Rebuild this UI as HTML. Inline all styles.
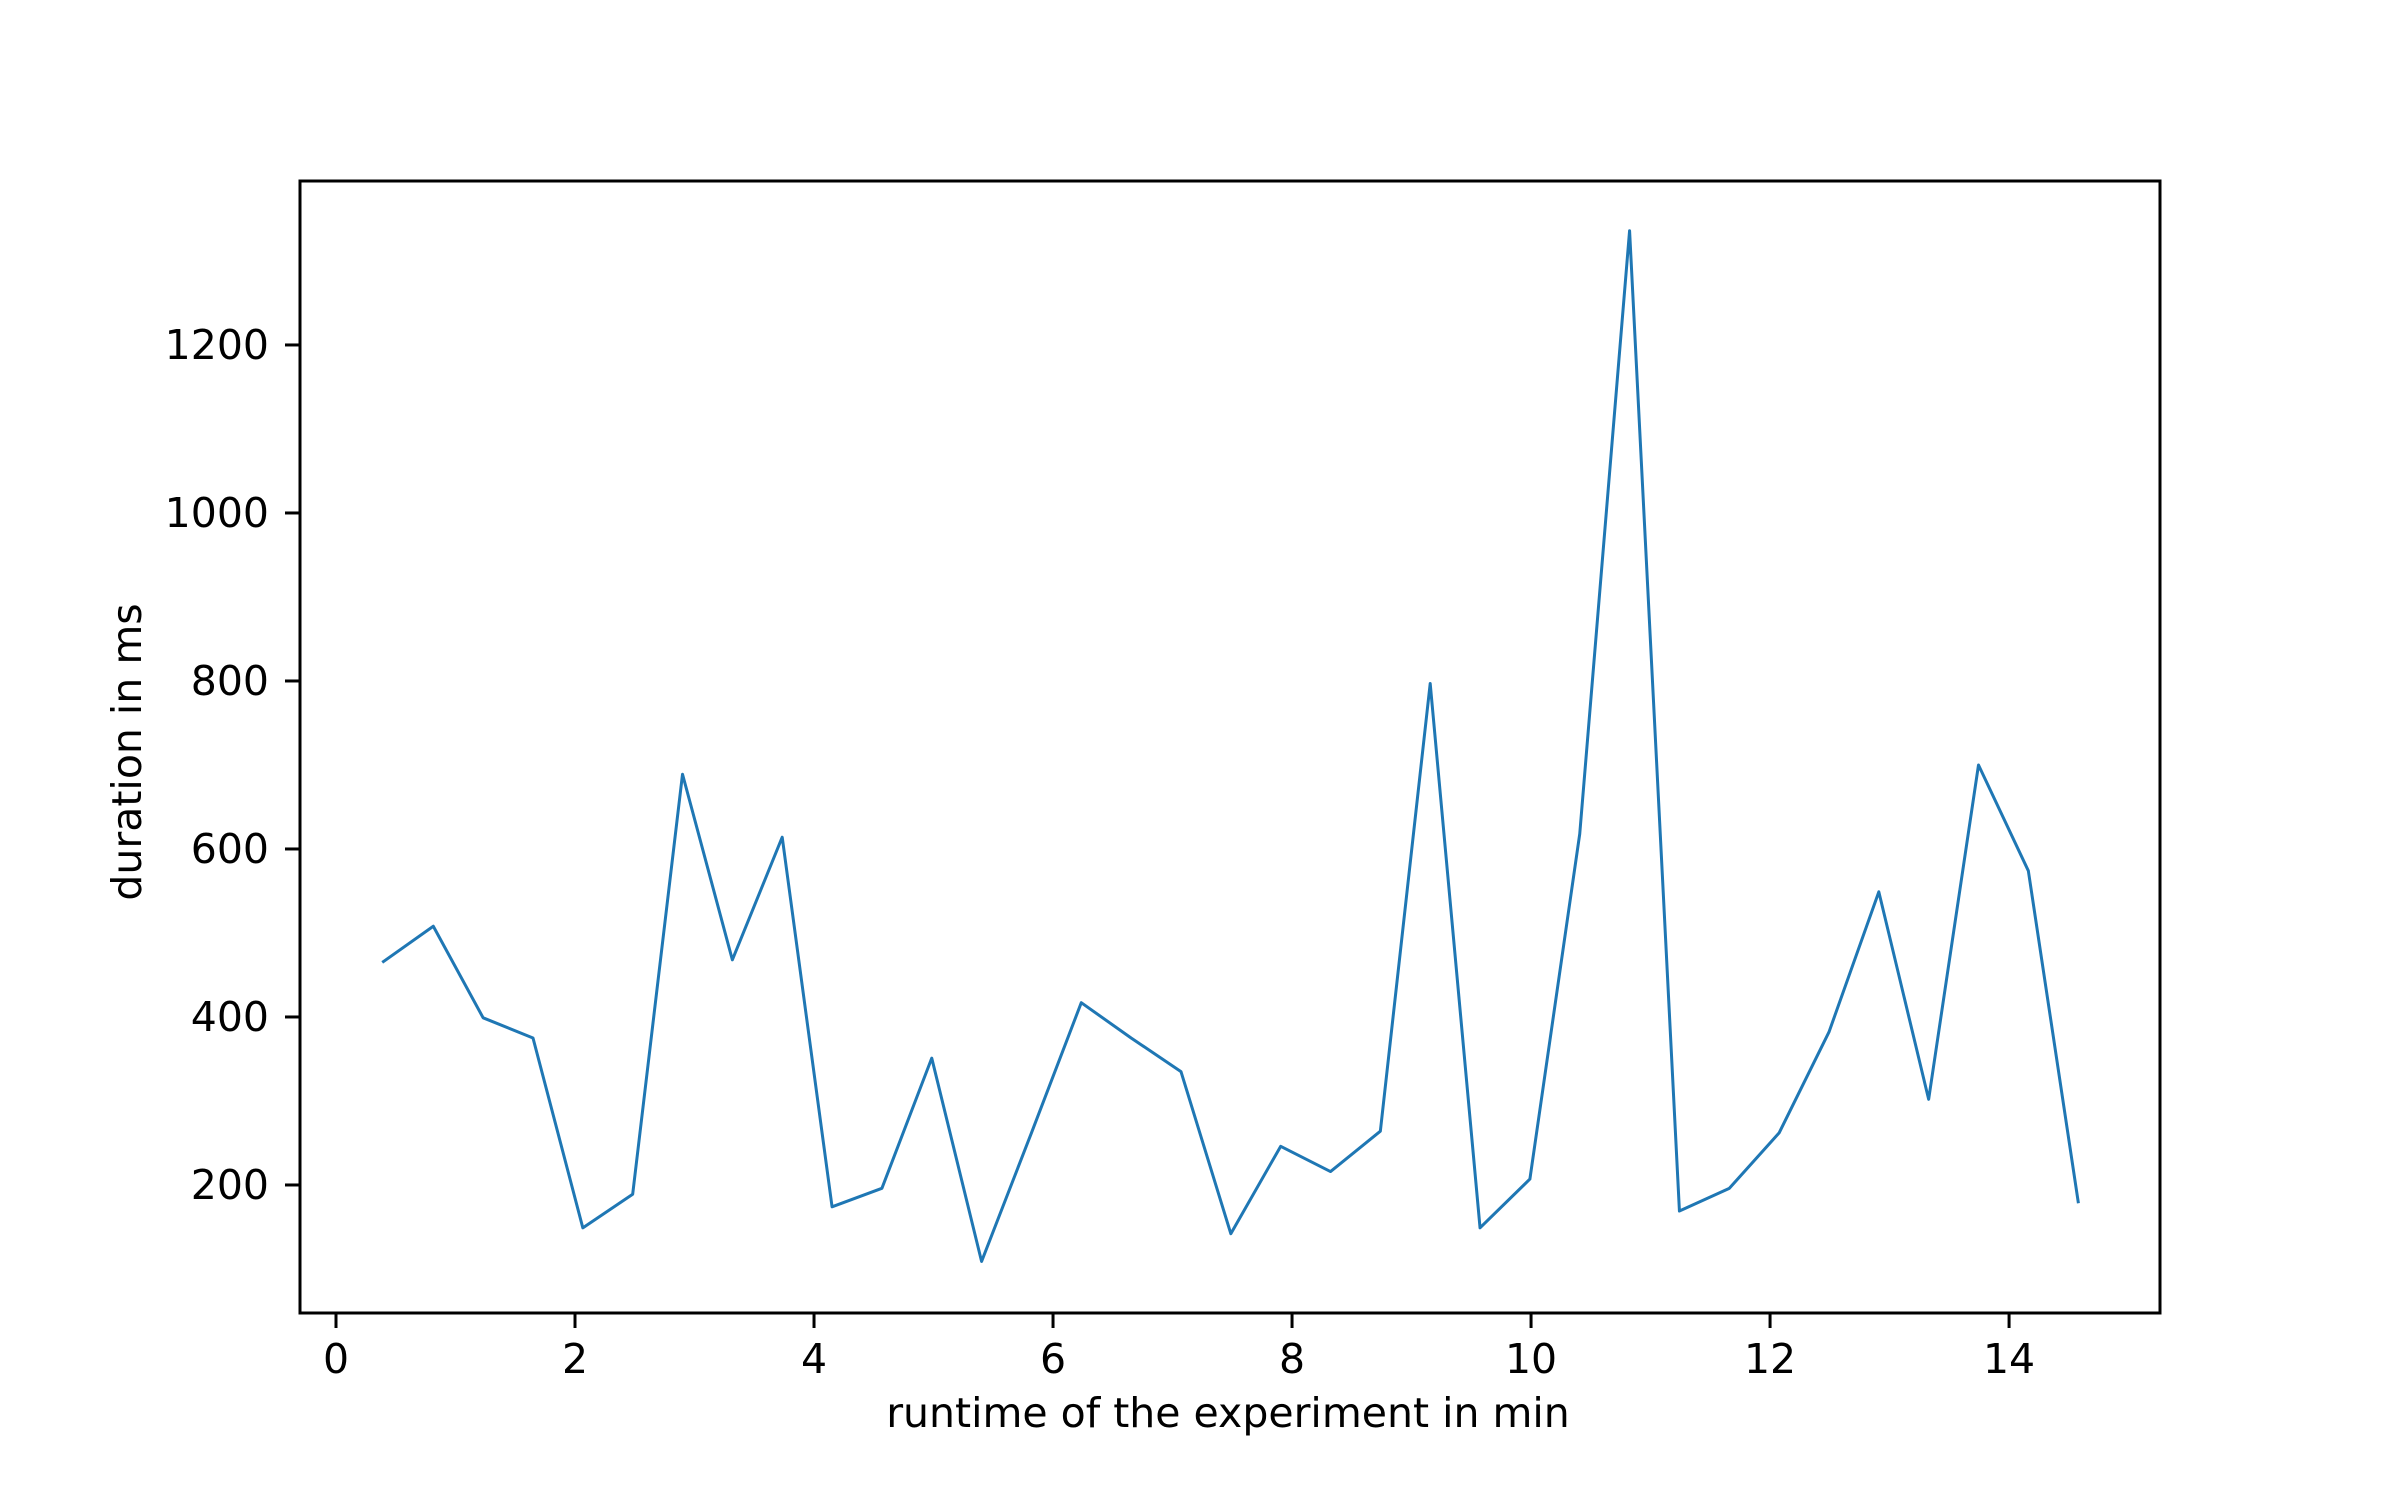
<!DOCTYPE html>
<html><head><meta charset="utf-8"><style>
html,body{margin:0;padding:0;background:#fff;}
svg{display:block;}
text{font-family:"DejaVu Sans","Liberation Sans",sans-serif;font-size:41px;fill:#000;}
</style></head>
<body>
<svg id="chart" width="2400" height="1500" viewBox="0 0 2400 1500" xmlns="http://www.w3.org/2000/svg">
<rect width="2400" height="1500" fill="#fff"/>
</svg>
<script>
const durations = [466,508,399,375,149,189,689,468,614,174,196,351,109,262,417,375,335,142,246,216,264,797,149,207,618,1336,169,196,262,382,549,302,700,574,180];
const startMinutes = 0.397;
const stepMinutes = 0.4171;
const xTicks = [0,2,4,6,8,10,12,14];
const yTicks = [200,400,600,800,1000,1200];
const xLabelText = "runtime of the experiment in min";
const yLabelText = "duration in ms";

const NS = "http://www.w3.org/2000/svg";
const svg = document.getElementById('chart');
const L = 300, R = 2160, T = 181, B = 1313;
const times = durations.map((d, i) => startMinutes + i * stepMinutes);
const xmin = -0.3013, xmax = 15.263;
const ymin = 47.6, ymax = 1395.2;
function xs(v){ return L + (v - xmin) / (xmax - xmin) * (R - L); }
function ys(v){ return B - (v - ymin) / (ymax - ymin) * (B - T); }
function mk(tag, attrs){ const e = document.createElementNS(NS, tag); for (const k in attrs) e.setAttribute(k, attrs[k]); svg.appendChild(e); return e; }

const pts = durations.map((d, i) => xs(times[i]).toFixed(2) + ',' + ys(d).toFixed(2)).join(' ');
const line = mk('polyline', {points: pts, fill: 'none', stroke: '#1f77b4', 'stroke-width': 3, 'stroke-linejoin': 'round', 'stroke-linecap': 'square'});



const frame = mk('rect', {x: L, y: T, width: R - L, height: B - T, fill: 'none', stroke: '#000', 'stroke-width': 3});



xTicks.forEach(t => {
  const x = xs(t);
  const tk = mk('line', {x1: x, x2: x, y1: B, y2: B + 15, stroke: '#000', 'stroke-width': 3});
  
  
  const lb = mk('text', {x: x, y: B + 60, 'text-anchor': 'middle'});
  lb.textContent = String(t);
  
  
});
yTicks.forEach(t => {
  const y = ys(t);
  const tk = mk('line', {x1: L - 15, x2: L, y1: y, y2: y, stroke: '#000', 'stroke-width': 3});
  
  
  const lb = mk('text', {x: L - 31, y: y + 14, 'text-anchor': 'end'});
  lb.textContent = String(t);
  
  
});
const xl = mk('text', {x: (L + R) / 2 - 2, y: 1427, 'text-anchor': 'middle'});
xl.textContent = xLabelText;


const yl = mk('text', {x: 0, y: 0, 'text-anchor': 'middle', transform: 'translate(141,' + ((T + B) / 2 + 5) + ') rotate(-90)'});
yl.textContent = yLabelText;


</script>
</body></html>
